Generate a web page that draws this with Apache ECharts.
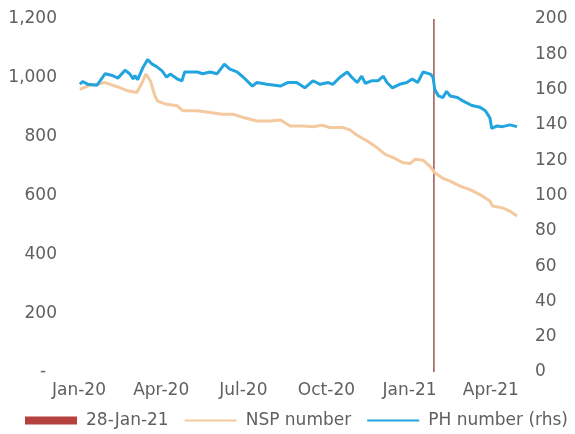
<!DOCTYPE html>
<html>
<head>
<meta charset="utf-8">
<script src="https://cdn.jsdelivr.net/npm/echarts@6/dist/echarts.min.js"></script>
<style>
html,body{margin:0;padding:0;background:#fff;}
#c{width:575px;height:434px;}
</style>
</head>
<body>
<div id="c"></div>
<script>
// ---- data ----
const nspDates = ['2020-01-02','2020-01-11','2020-01-21','2020-01-30','2020-02-07','2020-02-15','2020-02-24','2020-03-05','2020-03-11','2020-03-15','2020-03-20','2020-03-25','2020-03-28','2020-04-07','2020-04-19','2020-04-25','2020-05-11','2020-05-25','2020-06-08','2020-06-20','2020-07-01','2020-07-16','2020-07-30','2020-08-11','2020-08-22','2020-09-05','2020-09-16','2020-09-26','2020-10-05','2020-10-19','2020-10-27','2020-11-04','2020-11-15','2020-11-26','2020-12-05','2020-12-14','2020-12-25','2021-01-02','2021-01-07','2021-01-16','2021-01-24','2021-01-29','2021-02-06','2021-02-15','2021-02-26','2021-03-09','2021-03-20','2021-03-31','2021-04-03','2021-04-14','2021-04-22','2021-04-30'];
const nspValues = [961,973,978,984,975,967,956,950,984,1013,990,939,921,910,905,888,888,882,876,876,865,853,853,857,836,836,834,839,831,831,823,805,785,763,740,729,711,709,723,720,698,677,660,649,632,620,603,581,564,558,547,530];

const phDates = ['2020-01-02','2020-01-05','2020-01-11','2020-01-21','2020-01-30','2020-02-07','2020-02-13','2020-02-21','2020-02-26','2020-03-01','2020-03-03','2020-03-06','2020-03-12','2020-03-17','2020-03-22','2020-03-27','2020-04-02','2020-04-07','2020-04-11','2020-04-19','2020-04-24','2020-04-27','2020-05-11','2020-05-17','2020-05-25','2020-06-02','2020-06-10','2020-06-16','2020-06-24','2020-07-01','2020-07-11','2020-07-16','2020-07-27','2020-08-11','2020-08-19','2020-08-29','2020-09-07','2020-09-16','2020-09-24','2020-10-03','2020-10-08','2020-10-16','2020-10-24','2020-10-29','2020-11-04','2020-11-09','2020-11-13','2020-11-20','2020-11-27','2020-12-03','2020-12-07','2020-12-13','2020-12-21','2020-12-29','2021-01-04','2021-01-10','2021-01-16','2021-01-24','2021-01-27','2021-01-29','2021-02-02','2021-02-07','2021-02-11','2021-02-15','2021-02-23','2021-03-01','2021-03-11','2021-03-20','2021-03-26','2021-03-31','2021-04-02','2021-04-08','2021-04-14','2021-04-22','2021-04-30'];
const phValues = [163,164.6,163,162.5,169,168,166.5,171,169,166,168,165.6,172.7,177,174.4,173,170.6,167,168.8,166,165,170,170,169,170,169,174.4,171.6,170,167,162,164,163,162,164,164,161,165,163,164,163,167,170,167,164,167.6,163.6,165,165,167.6,164,161,163,164,166,164,170,168.8,167,160,156.4,155.5,159,156.4,155.5,153.6,151,150,148,144,138,139.4,139,140,139];

const eventDate = '2021-01-28';
const eventName = '28-Jan-21';
const xTickDates = ['2020-01-01','2020-04-01','2020-07-01','2020-10-01','2021-01-01','2021-04-01'];
const xStart = '2020-01-01';
const xEnd = '2021-04-30';
const monthNames = ['Jan','Feb','Mar','Apr','May','Jun','Jul','Aug','Sep','Oct','Nov','Dec'];

// daily categories between start and end
const days = [];
(function () {
  const d = new Date(xStart + 'T00:00:00Z');
  const e = new Date(xEnd + 'T00:00:00Z');
  while (d <= e) { days.push(d.toISOString().slice(0, 10)); d.setUTCDate(d.getUTCDate() + 1); }
})();

// ---- chart ----
const FONT = 'DejaVu Sans, Verdana, sans-serif';
const TXT = '#606060';
const FS = 17;
const chart = echarts.init(document.getElementById('c'), null, {renderer:'canvas'});
const pair = (d, v) => d.map((x, i) => [x, v[i]]);

chart.setOption({
  animation: false,
  backgroundColor: '#ffffff',
  grid: {left: 79, right: 58, top: 19, bottom: 62, containLabel: false},
  legend: {
    left: 25, top: 412, padding: 0, width: 575,
    itemWidth: 52, itemHeight: 8, itemGap: 15,
    textStyle: {color: TXT, fontSize: FS, fontFamily: FONT, padding: [0, 0, 0, 4]},
    data: [
      {name: eventName, icon: 'rect', itemStyle: {color: '#b5413e'}},
      {name: 'NSP number', itemStyle: {opacity: 0}},
      {name: 'PH number (rhs)', itemStyle: {opacity: 0}}
    ]
  },
  xAxis: {
    type: 'category',
    data: days,
    boundaryGap: false,
    axisLine: {show: false},
    axisTick: {show: false},
    splitLine: {show: false},
    axisLabel: {
      interval: (i, v) => xTickDates.indexOf(v) >= 0,
      color: TXT, fontSize: FS, fontFamily: FONT, margin: 10,
      hideOverlap: false,
      formatter: function (v) {
        const p = v.split('-');
        return monthNames[parseInt(p[1], 10) - 1] + '-' + p[0].slice(2);
      }
    }
  },
  yAxis: [
    {
      type: 'value', min: 0, max: 1200, interval: 200,
      axisLine: {show: false}, axisTick: {show: false}, splitLine: {show: false},
      axisLabel: {
        color: TXT, fontSize: FS, fontFamily: FONT, margin: 22,
        formatter: v => v === 0 ? '-  ' : v.toLocaleString('en-US')
      }
    },
    {
      type: 'value', min: 0, max: 200, interval: 20,
      axisLine: {show: false}, axisTick: {show: false}, splitLine: {show: false},
      axisLabel: {color: TXT, fontSize: FS, fontFamily: FONT, margin: 18}
    }
  ],
  series: [
    {
      name: eventName, type: 'line', yAxisIndex: 0, symbol: 'none',
      data: [[eventDate, 0], [eventDate, 1200]],
      lineStyle: {color: '#8a3c39', width: 1.3},
      itemStyle: {color: '#b5413e'},
      z: 1
    },
    {
      name: 'NSP number', type: 'line', yAxisIndex: 0, symbol: 'none',
      data: pair(nspDates, nspValues),
      lineStyle: {color: '#f5c9a0', width: 3},
      itemStyle: {color: '#f5c9a0'},
      z: 2
    },
    {
      name: 'PH number (rhs)', type: 'line', yAxisIndex: 1, symbol: 'none',
      data: pair(phDates, phValues),
      lineStyle: {color: '#22a5de', width: 3},
      itemStyle: {color: '#22a5de'},
      z: 3
    }
  ]
});
</script>
</body>
</html>
